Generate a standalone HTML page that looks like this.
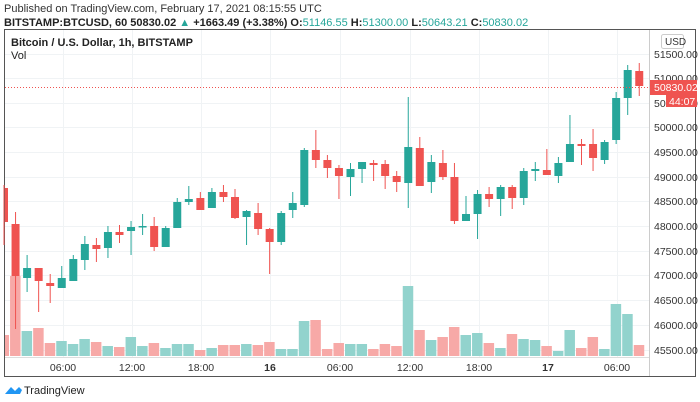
<!DOCTYPE html>
<html><head><meta charset="utf-8"><style>
body{margin:0;width:700px;height:402px;background:#fff;overflow:hidden;font-family:"Liberation Sans",sans-serif;}
svg{position:absolute;left:0;top:0}
</style></head><body>
<svg width="700" height="402" xmlns="http://www.w3.org/2000/svg" font-family="Liberation Sans, sans-serif">
<text x="4" y="12" font-size="11" fill="#333">Published on TradingView.com, February 17, 2021 08:15:55 UTC</text>
<text x="4" y="26" font-size="11" fill="#222" font-weight="bold" textLength="0">BITSTAMP:BTCUSD, 60 50830.02 <tspan fill="#26a69a">▲</tspan> +1663.49 (+3.38%) O:<tspan fill="#26a69a" font-weight="normal">51146.55</tspan> H:<tspan fill="#26a69a" font-weight="normal">51300.00</tspan> L:<tspan fill="#26a69a" font-weight="normal">50643.21</tspan> C:<tspan fill="#26a69a" font-weight="normal">50830.02</tspan></text>
<g id="grid" stroke="#f0f3f5" stroke-width="1"></g>
<rect x="4.5" y="29.5" width="691" height="347" fill="none" stroke="#555" stroke-width="1"/>
<line x1="649.5" y1="30" x2="649.5" y2="376" stroke="#ccc"/>
<line x1="5" y1="357.5" x2="649" y2="357.5" stroke="#ddd"/>
<g id="vol"></g>
<g id="candles"></g>
<line x1="5" y1="87.5" x2="649" y2="87.5" stroke="#ef5350" stroke-dasharray="1,2" stroke-width="1"/>
<text x="11" y="46" font-size="11" font-weight="bold" fill="#222">Bitcoin / U.S. Dollar, 1h, BITSTAMP</text>
<text x="11" y="59" font-size="11" fill="#222">Vol</text>
<rect x="661.5" y="34.5" width="22" height="14" rx="2" fill="#fff" stroke="#ccc"/>
<text x="665" y="45" font-size="10" fill="#333">USD</text>
<g font-size="10.5" fill="#333">
<text x="654" y="58">51500.00</text>
<text x="654" y="82">51000.00</text>
<text x="654" y="107">50500.00</text>
<text x="654" y="131">50000.00</text>
<text x="654" y="156">49500.00</text>
<text x="654" y="181">49000.00</text>
<text x="654" y="205">48500.00</text>
<text x="654" y="230">48000.00</text>
<text x="654" y="255">47500.00</text>
<text x="654" y="279">47000.00</text>
<text x="654" y="304">46500.00</text>
<text x="654" y="329">46000.00</text>
<text x="654" y="354">45500.00</text>
</g>
<rect x="650" y="80" width="47" height="15" fill="#ef5350"/>
<text x="654" y="91" font-size="10.5" fill="#fff">50830.02</text>
<rect x="666" y="95" width="31" height="12" fill="#ef5350"/>
<text x="669" y="105" font-size="10.5" fill="#fff">44:07</text>
<g font-size="10.5" fill="#333" text-anchor="middle">
<text x="63" y="371">06:00</text><text x="132" y="371">12:00</text><text x="201" y="371">18:00</text>
<text x="270" y="371" font-weight="bold">16</text><text x="340" y="371">06:00</text><text x="410" y="371">12:00</text>
<text x="479" y="371">18:00</text><text x="548" y="371" font-weight="bold">17</text><text x="617" y="371">06:00</text>
</g>
<path d="M5 394 L11 387 L15 391 L19 387 L22 390 L20 394 Z" fill="#2196f3"/>
<text x="24" y="394" font-size="11" fill="#222">TradingView</text>
</svg>
<script>
var ns="http://www.w3.org/2000/svg";
function el(p,t,a){var e=document.createElementNS(ns,t);for(var k in a)e.setAttribute(k,a[k]);document.getElementById(p).appendChild(e);}
[63,132,201,270,340,410,479,548,617].forEach(function(x){el("grid","line",{x1:x+.5,y1:30,x2:x+.5,y2:357});});
[54,78,103,127,152,177,201,226,251,275,300,325,350].forEach(function(y){el("grid","line",{x1:5,y1:y+.5,x2:649,y2:y+.5});});
// [color, bodyTop, bodyBot, wickTop, wickBot, volTop]
var C=[
["r",188,222,185,245,335],["r",224,276,212,329,276],["g",268,278,255,292,331],["r",268,281,268,312,328],
["r",283,286,274,303,343],["g",278,288,266,288,341],["g",259,281,255,281,344],["g",244,260,236,270,339],
["r",245,249,238,262,342],["g",232,248,226,258,346],["r",232,235,225,243,347],["g",227,231,221,255,337],
["g",226,227,214,235,346],["r",226,247,217,251,343],["g",228,247,226,247,348],["g",202,228,198,228,344],
["g",199,202,186,205,344],["r",198,210,192,210,350],["g",192,208,188,208,348],["r",192,197,185,202,345],
["r",197,218,189,219,345],["g",211,217,210,245,344],["r",213,229,203,235,345],["r",229,242,228,274,342],
["g",213,242,211,245,349],["g",203,210,192,218,349],["g",150,205,148,207,321],["r",150,160,130,168,320],
["r",160,168,155,178,349],["r",168,176,165,199,343],["g",169,177,163,196,344],["g",162,169,162,183,344],
["r",163,165,160,181,349],["r",164,176,160,189,344],["r",176,182,171,192,346],["g",147,183,97,208,286],
["r",148,186,137,186,330],["g",162,182,155,193,340],["r",163,177,150,180,337],["r",177,221,163,224,327],
["g",214,221,196,221,335],["g",194,214,190,239,333],["r",194,199,187,207,343],["g",187,199,185,216,348],
["r",187,198,185,209,334],["g",171,198,168,205,339],["g",169,171,162,181,340],["r",170,175,149,175,346],
["g",163,176,157,183,351],["g",144,162,115,162,330],["r",144,146,139,165,348],["r",144,158,129,171,337],
["g",142,160,140,164,349],["g",98,140,92,144,304],["g",70,98,65,115,314],["r",71,86,63,96,345]];
C.forEach(function(c,i){
 var x=4+i*11.55, col=c[0]=="g"?"#26a69a":"#ef5350", vc=c[0]=="g"?"#92d3cd":"#f7a9a7";
 var l=Math.max(5,x-5.5), r=Math.min(649,x+5.5);
 el("vol","rect",{x:l,y:c[5],width:r-l-0.5,height:356-c[5],fill:vc});
 el("candles","line",{x1:x,y1:c[3],x2:x,y2:c[4],stroke:col,"stroke-width":1});
 var bl=Math.max(5,x-4);
 el("candles","rect",{x:bl,y:c[1],width:x+4-bl,height:Math.max(1.5,c[2]-c[1]),fill:col});
});
</script>
</body></html>
